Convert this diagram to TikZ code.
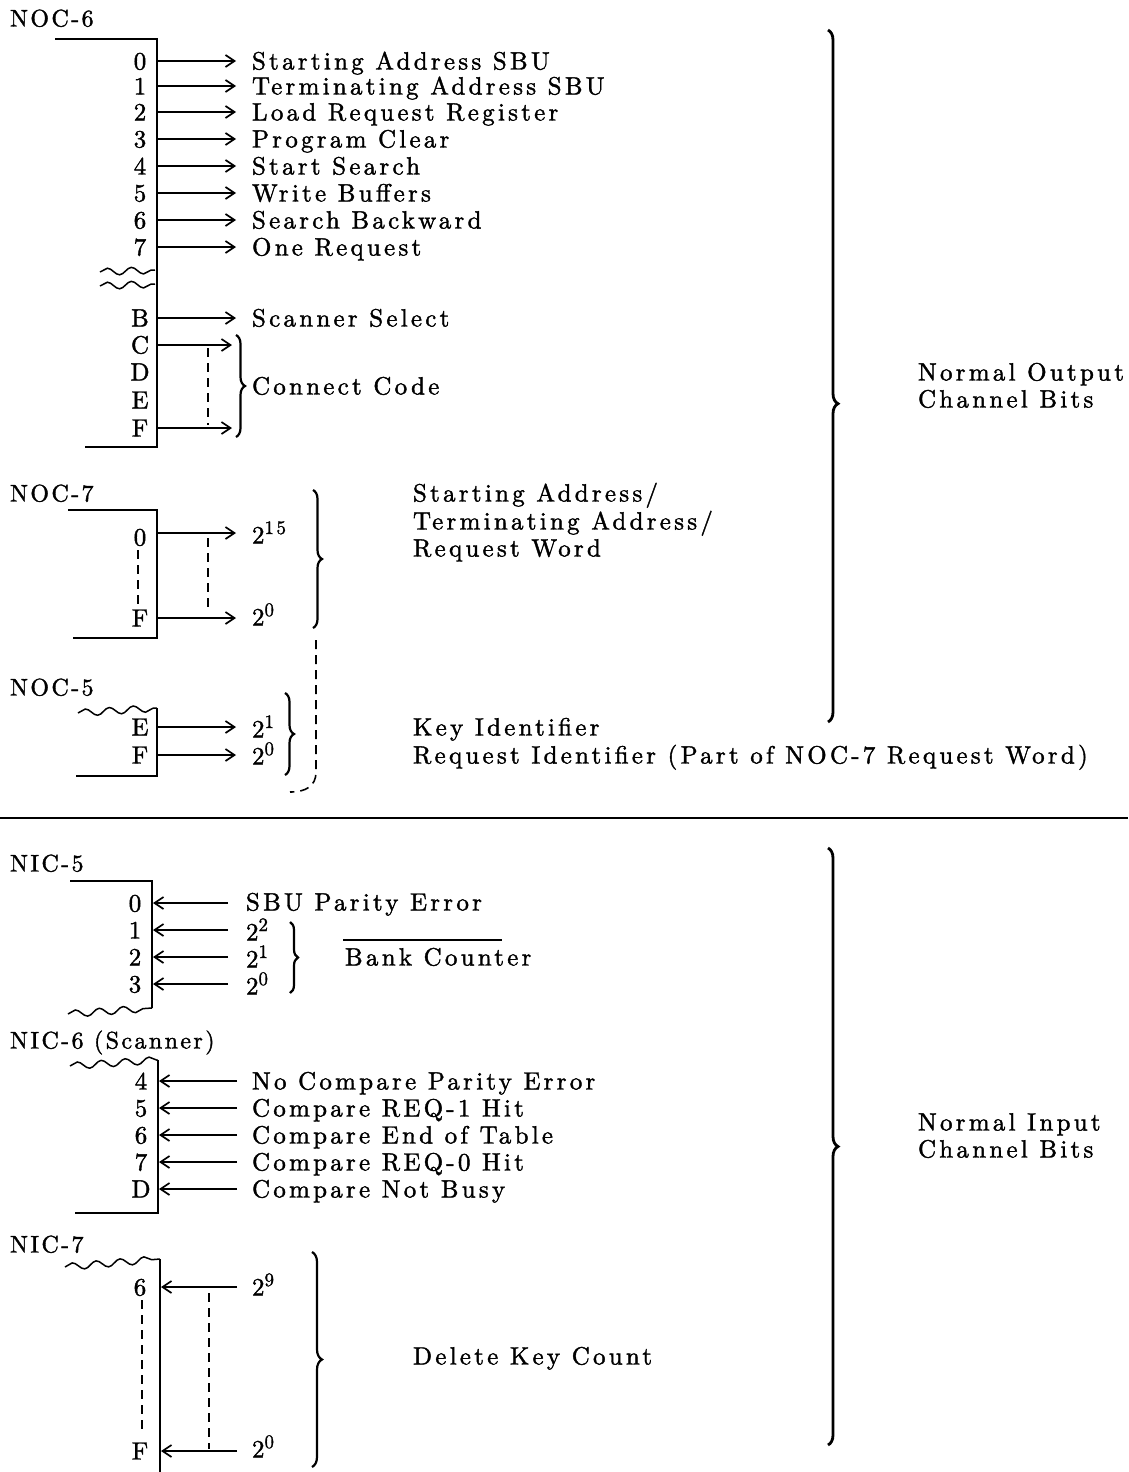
\documentclass[tikz,border=0pt]{standalone}
\usepackage{fontspec}
\setmainfont{lmroman10-regular.otf}[LetterSpace=13, FakeBold=1.5]
\usetikzlibrary{arrows.meta,decorations.pathreplacing,decorations.pathmorphing}
\newcommand{\psup}[1]{\raisebox{9.5pt}{\fontsize{19}{19}\selectfont #1}}
\tikzset{
 lbl/.style={anchor=base west, yshift=-8.5pt, font=\fontsize{24}{28}\selectfont\addfontfeatures{LetterSpace=10}},
 tx/.style={anchor=base west, yshift=-8.5pt, font=\fontsize{25}{29}\selectfont},
 bit/.style={anchor=base, yshift=-8.5pt, font=\fontsize{25}{29}\selectfont},
 boxline/.style={line width=2pt},
 arr/.style={line width=1.7pt, -{Straight Barb[length=9pt,width=12pt,line width=1.7pt]}},
 dsh/.style={line width=1.6pt, dash pattern=on 9pt off 6pt},
 wav/.style={line width=1.5pt, decorate, decoration={snake, segment length=24pt, amplitude=3.5pt}},
 brc/.style={line width=2.2pt, decorate, decoration={brace, amplitude=#1}},
 bigbrc/.style={line width=2.8pt, decorate, decoration={brace, amplitude=10pt, aspect=#1}},
}
\begin{document}
\begin{tikzpicture}[x=1pt,y=-1pt, every node/.style={inner sep=0pt, outer sep=0pt}]
\useasboundingbox (0,0) rectangle (1128,1472);

% ---------------- NOC-6 ----------------
\node[lbl] (noc6) at (10,18) {NOC-6};
\coordinate (b6tl) at (55,39); \coordinate (b6tr) at (157,39);
\coordinate (b6br) at (157,447); \coordinate (b6bl) at (85,447);
\draw[boxline] (b6tl) -- (b6tr) -- (b6br) -- (b6bl);
\foreach \n/\y/\t in {0/61/Starting Address SBU,1/86/Terminating Address SBU,2/112/Load Request Register,3/139/Program Clear,4/166/Start Search,5/193/Write Buffers,6/220/Search Backward,7/247/One Request,B/318/Scanner Select}{
  \node[bit] (a\n) at (140,\y) {\n};
  \coordinate (as\n) at (157,\y);
  \coordinate (ae\n) at (236,\y);
  \draw[arr] (as\n) -- (ae\n);
  \node[tx] (at\n) at (252,\y) {\t};
}
\coordinate (w1a) at (100,272); \coordinate (w1b) at (155,270);
\coordinate (w2a) at (100,286); \coordinate (w2b) at (155,284);
\draw[wav] (w1a) -- (w1b);
\draw[wav] (w2a) -- (w2b);
\foreach \n/\y in {C/345,D/372,E/400,F/428}{
  \node[bit] (a\n) at (140,\y) {\n};
}
\coordinate (asC) at (157,345); \coordinate (aeC) at (232,345);
\coordinate (asF) at (157,428); \coordinate (aeF) at (232,428);
\draw[arr] (asC) -- (aeC);
\draw[arr] (asF) -- (aeF);
\coordinate (dcT) at (208,348); \coordinate (dcB) at (208,425);
\draw[dsh] (dcT) -- (dcB);
\coordinate (ccT) at (236,335); \coordinate (ccB) at (236,437);
\draw[brc=9pt] (ccT) -- (ccB);
\node[tx] (cc) at (252,386) {Connect Code};

% ---------------- NOC-7 ----------------
\node[lbl] (noc7) at (10,493) {NOC-7};
\coordinate (b7tl) at (68,510); \coordinate (b7tr) at (157,510);
\coordinate (b7br) at (157,638); \coordinate (b7bl) at (73,638);
\draw[boxline] (b7tl) -- (b7tr) -- (b7br) -- (b7bl);
\node[bit] (n70) at (140,537) {0};
\node[bit] (n7F) at (140,618) {F};
\coordinate (d7T) at (138,550); \coordinate (d7B) at (138,604);
\draw[dsh] (d7T) -- (d7B);
\coordinate (s70) at (157,533); \coordinate (e70) at (236,533);
\coordinate (s7F) at (157,618); \coordinate (e7F) at (236,618);
\draw[arr] (s70) -- (e70);
\draw[arr] (s7F) -- (e7F);
\coordinate (m7T) at (208,538); \coordinate (m7B) at (208,612);
\draw[dsh] (m7T) -- (m7B);
\node[tx] (p15) at (252,535) {2\psup{15}};
\node[tx] (p0a) at (252,617) {2\psup{0}};
\coordinate (r7T) at (313,490); \coordinate (r7B) at (313,628);
\draw[brc=9pt] (r7T) -- (r7B);
\node[tx] (sa) at (413,493) {Starting Address/};
\node[tx] (ta) at (413,521) {Terminating Address/};
\node[tx] (rw) at (413,548) {Request Word};

% ---------------- NOC-5 ----------------
\node[lbl] (noc5) at (10,687) {NOC-5};
\coordinate (w5a) at (78,713); \coordinate (w5b) at (157,708);
\draw[wav] (w5a) -- (w5b);
\coordinate (b5br) at (157,776); \coordinate (b5bl) at (76,776);
\draw[boxline] (w5b) -- (b5br) -- (b5bl);
\node[bit] (n5E) at (140,727) {E};
\node[bit] (n5F) at (140,755) {F};
\coordinate (s5E) at (157,727); \coordinate (e5E) at (236,727);
\coordinate (s5F) at (157,755); \coordinate (e5F) at (236,755);
\draw[arr] (s5E) -- (e5E);
\draw[arr] (s5F) -- (e5F);
\node[tx] (p1) at (252,729) {2\psup{1}};
\node[tx] (p0b) at (252,756) {2\psup{0}};
\coordinate (r5T) at (285,693); \coordinate (r5B) at (285,775);
\draw[brc=9pt] (r5T) -- (r5B);
\coordinate (dl1) at (316,640); \coordinate (dl2) at (316,772); \coordinate (dl3) at (290,792);
\draw[dsh] (dl1) -- (dl2) .. controls (316,786) and (306,792) .. (dl3);
\node[tx] (ki) at (413,727) {Key Identifier};
\node[tx] (ri) at (413,755) {Request Identifier (Part of NOC-7 Request Word)};

% big output brace
\coordinate (boT) at (828,30); \coordinate (boB) at (828,722);
\draw[bigbrc=0.54] (boT) -- (boB);
\node[tx] (no1) at (918,372) {Normal Output};
\node[tx] (no2) at (918,399) {Channel Bits};

% separator
\coordinate (sepL) at (0,818); \coordinate (sepR) at (1128,818);
\draw[line width=1.8pt] (sepL) -- (sepR);

% ---------------- NIC-5 ----------------
\node[lbl] (nic5) at (10,863) {NIC-5};
\coordinate (c5tl) at (70,881); \coordinate (c5tr) at (152,881);
\coordinate (c5br) at (152,1008); \coordinate (c5w) at (68,1014);
\draw[boxline] (c5tl) -- (c5tr) -- (c5br);
\draw[wav] (c5w) -- (c5br);
\foreach \n/\y in {0/903,1/930,2/957,3/984}{
  \node[bit] (i5\n) at (135,\y) {\n};
  \coordinate (ie\n) at (153,\y);
  \coordinate (is\n) at (228,\y);
  \draw[arr] (is\n) -- (ie\n);
}
\node[tx] (spe) at (246,902) {SBU Parity Error};
\node[tx] (q2) at (246,932) {2\psup{2}};
\node[tx] (q1) at (246,959) {2\psup{1}};
\node[tx] (q0) at (246,986) {2\psup{0}};
\coordinate (r6T) at (290,922); \coordinate (r6B) at (290,993);
\draw[brc=8pt] (r6T) -- (r6B);
\node[tx] (bank) at (345,957) {Bank Counter};
\coordinate (ovL) at (343,940); \coordinate (ovR) at (502,940);
\draw[line width=1.6pt] (ovL) -- (ovR);

% ---------------- NIC-6 ----------------
\node[lbl] (nic6) at (10,1040) {NIC-6 (Scanner)};
\coordinate (c6w) at (70,1066); \coordinate (c6t) at (158,1060);
\coordinate (c6br) at (158,1213); \coordinate (c6bl) at (75,1213);
\draw[wav] (c6w) -- (c6t);
\draw[boxline] (c6t) -- (c6br) -- (c6bl);
\foreach \n/\y/\t in {4/1081/No Compare Parity Error,5/1108/Compare REQ-1 Hit,6/1135/Compare End of Table,7/1162/Compare REQ-0 Hit,D/1189/Compare Not Busy}{
  \node[bit] (i6\n) at (141,\y) {\n};
  \coordinate (je\n) at (159,\y);
  \coordinate (js\n) at (237,\y);
  \draw[arr] (js\n) -- (je\n);
  \node[tx] (jt\n) at (252,\y) {\t};
}

% ---------------- NIC-7 ----------------
\node[lbl] (nic7) at (10,1244) {NIC-7};
\coordinate (c7w) at (65,1267); \coordinate (c7t) at (160,1259);
\coordinate (c7b) at (160,1472);
\draw[wav] (c7w) -- (c7t);
\draw[boxline] (c7t) -- (c7b);
\node[bit] (i76) at (140,1287) {6};
\node[bit] (i7F) at (140,1451) {F};
\coordinate (d8T) at (142,1300); \coordinate (d8B) at (142,1433);
\draw[dsh] (d8T) -- (d8B);
\coordinate (k6e) at (161,1287); \coordinate (k6s) at (237,1287);
\coordinate (kFe) at (161,1451); \coordinate (kFs) at (237,1451);
\draw[arr] (k6s) -- (k6e);
\draw[arr] (kFs) -- (kFe);
\coordinate (m8T) at (209,1293); \coordinate (m8B) at (209,1449);
\draw[dsh] (m8T) -- (m8B);
\node[tx] (p9) at (252,1287) {2\psup{9}};
\node[tx] (p0c) at (252,1449) {2\psup{0}};
\coordinate (r8T) at (312,1252); \coordinate (r8B) at (312,1467);
\draw[brc=10pt] (r8T) -- (r8B);
\node[tx] (dkc) at (413,1356) {Delete Key Count};

% big input brace
\coordinate (biT) at (828,848); \coordinate (biB) at (828,1445);
\draw[bigbrc=0.5] (biT) -- (biB);
\node[tx] (ni1) at (918,1122) {Normal Input};
\node[tx] (ni2) at (918,1149) {Channel Bits};
\end{tikzpicture}
\end{document}
